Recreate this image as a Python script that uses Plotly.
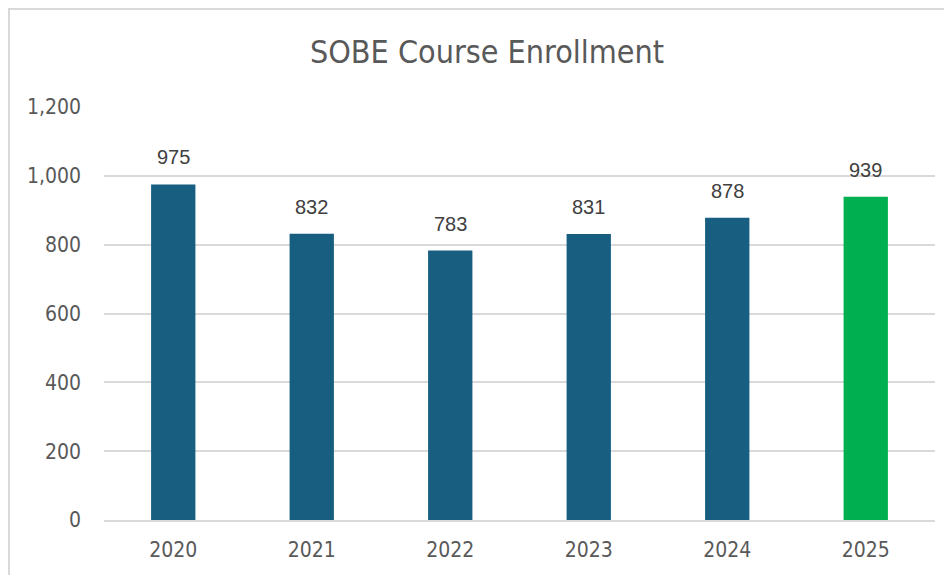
import plotly.graph_objects as go

years = ["2020", "2021", "2022", "2023", "2024", "2025"]
enrollment = [975, 832, 783, 831, 878, 939]
bar_colors = ["#175E80", "#175E80", "#175E80", "#175E80", "#175E80", "#00B050"]
y_ticks = [0, 200, 400, 600, 800, 1000, 1200]

# page body has an 8px margin, so the figure is sized to fit inside the window
W, H = 944, 567
L, R, T, B = 96, 17, 99, 55
narrow = "DejaVu Sans Condensed, Roboto, sans-serif"

fig = go.Figure()
fig.add_trace(go.Bar(
    x=years, y=enrollment,
    marker=dict(color=bar_colors, line=dict(width=0)),
    hoverinfo="x+y",
))

# value labels above each bar (category index used as x position)
for i, v in enumerate(enrollment):
    fig.add_annotation(
        x=i, y=v, text=f"{v:,}", showarrow=False,
        yanchor="bottom", yshift=14,
        font=dict(family="Liberation Sans, Arial", size=20, color="#404040"),
    )

pw = W - L - R
ph = H - T - B
# chart border (only left and top edges visible in the frame)
fig.add_shape(
    type="rect", xref="paper", yref="paper",
    x0=(1 - L) / pw, x1=(W + 20 - L) / pw,
    y0=-(H + 20 - T - ph) / ph, y1=(H - 1 - B) / ph,
    line=dict(color="#D9D9D9", width=2), fillcolor="rgba(0,0,0,0)", layer="below",
)

fig.update_layout(
    width=W, height=H,
    margin=dict(l=L, r=R, t=T, b=B),
    paper_bgcolor="white", plot_bgcolor="white",
    bargap=0.68,
    showlegend=False,
    title=dict(
        text="SOBE Course Enrollment", x=479 / W, xanchor="center",
        y=1 - 44 / H, yanchor="middle",
        font=dict(family=narrow, size=32, color="#595959"),
    ),
    xaxis=dict(
        type="category", range=[-0.5, len(years) - 0.5],
        showgrid=False, showline=True, linecolor="#D9D9D9", linewidth=2,
        tickfont=dict(family=narrow, size=21, color="#595959"),
        ticklabelstandoff=10,
    ),
    yaxis=dict(
        range=[0, 1200], tickvals=y_ticks, tickformat=",",
        showgrid=True, gridcolor="#D9D9D9", gridwidth=1.5,
        zeroline=False, showline=False,
        tickfont=dict(family=narrow, size=21, color="#595959"),
        ticklabelstandoff=22,
    ),
)

fig.write_html("out.html")
